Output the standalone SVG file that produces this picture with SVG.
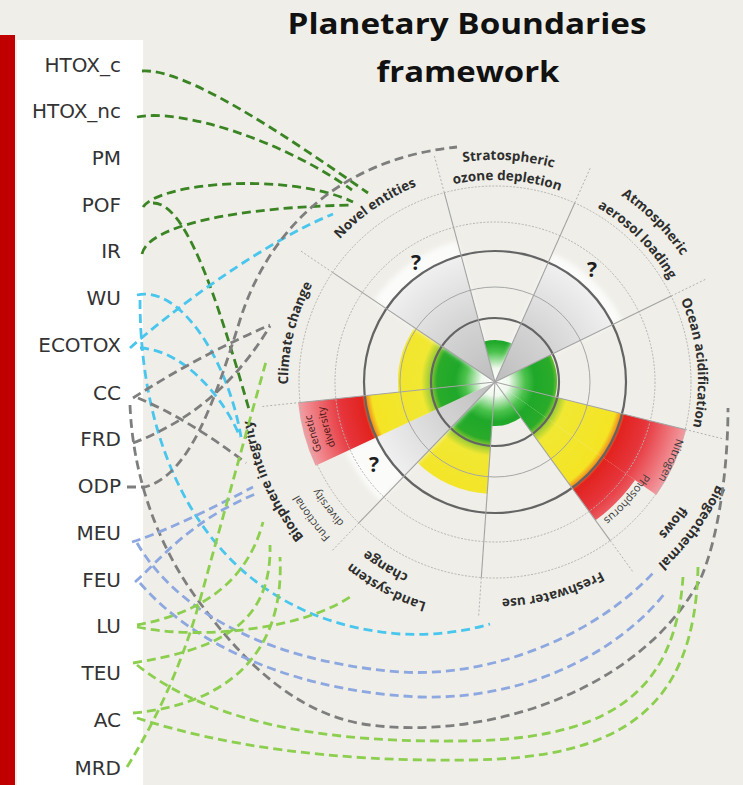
<svg xmlns="http://www.w3.org/2000/svg" width="743" height="785" viewBox="0 0 743 785">
<style>
  text { font-family: "Open Sans", "Liberation Sans", Arial, sans-serif; }
  .ind { font-family: "DejaVu Sans", "Liberation Sans", sans-serif; font-size: 20px; fill: #333; text-anchor: end; }
  .ttl { font-size: 29px; font-weight: bold; fill: #111; text-anchor: middle; }
  .pb { font-size: 13.5px; font-weight: bold; fill: #2e2e2e; }
  .sub { font-size: 11px; fill: #3c3c3c; }
  .subr { font-size: 10.5px; fill: #4a1616; }
  .q { font-size: 21px; font-weight: bold; fill: #1e1e1e; text-anchor: middle; }
  .ring-d { fill: none; stroke: #646464; stroke-width: 2.2; }
  .ring-l { fill: none; stroke: #a6a6a6; stroke-width: 1; }
  .ring-o { fill: none; stroke: #b4b4b4; stroke-width: 1; stroke-dasharray: 2 1.5; }
  .spoke { stroke: #a3a3a3; stroke-width: 1.1; }
  .spoke-o { stroke: #b2b2b2; stroke-width: 1; stroke-dasharray: 2 2; }
  .cn { fill: none; stroke-width: 2.8; stroke-dasharray: 9 5; }
  .dg { stroke: #3a8424; }
  .cy { stroke: #49c6ee; }
  .gy { stroke: #7e7e7e; }
  .bl { stroke: #8da7e0; }
  .lg { stroke: #8ccf4f; }
</style>
<defs>
  <!-- status colours along the radius: safe (green) -> uncertain (yellow) -> high risk (red) -->
  <radialGradient id="status" gradientUnits="userSpaceOnUse" cx="495" cy="382" r="200">
    <stop offset="0" stop-color="#ffffff"/>
    <stop offset="0.07" stop-color="#eef8ec"/>
    <stop offset="0.15" stop-color="#4cc24c"/>
    <stop offset="0.2" stop-color="#1fa82a"/>
    <stop offset="0.29" stop-color="#2aab2a"/>
    <stop offset="0.33" stop-color="#a5cf35"/>
    <stop offset="0.37" stop-color="#f1e833"/>
    <stop offset="0.62" stop-color="#f4e424"/>
    <stop offset="0.645" stop-color="#f29a1e"/>
    <stop offset="0.67" stop-color="#e2231f"/>
    <stop offset="0.78" stop-color="#e6343a"/>
    <stop offset="1" stop-color="#f3a4aa"/>
  </radialGradient>
  <radialGradient id="unknown" gradientUnits="userSpaceOnUse" cx="495" cy="382" r="200">
    <stop offset="0" stop-color="#bdbdbd"/>
    <stop offset="0.3" stop-color="#d2d2d2"/>
    <stop offset="0.655" stop-color="#f0f0f0"/>
    <stop offset="1" stop-color="#ffffff"/>
  </radialGradient>
  <filter id="soft" x="-20%" y="-20%" width="140%" height="140%">
    <feGaussianBlur stdDeviation="2.5"/>
  </filter>
  <!-- baseline arcs for the boundary names (clockwise around the wheel centre) -->
  <path id="a-strat" d="M279.1,330.2 A222,222 0 0 1 715.6,356.9"/>
  <path id="a-ozone" d="M298.6,334.9 A202,202 0 0 1 695.7,359.1"/>
  <path id="a-novel" d="M303.2,469.8 A211,211 0 0 1 645.2,233.8"/>
  <path id="a-atmo" d="M365.9,197.7 A225,225 0 0 1 679.3,511.1"/>
  <path id="a-aero" d="M379.1,216.5 A202,202 0 0 1 660.5,497.9"/>
  <path id="a-ocean" d="M510.9,179.6 A203,203 0 0 1 549.2,577.6"/>
  <path id="a-bgc" d="M672.0,214.0 A244,244 0 0 1 386.1,600.4"/>
  <path id="a-flows" d="M661.5,233.7 A223,223 0 0 1 389.3,578.4"/>
  <path id="a-fresh" d="M711.0,361.2 A217,217 0 0 1 299.1,475.4"/>
  <path id="a-land" d="M677.3,523.9 A231,231 0 0 1 275.2,311.0"/>
  <path id="a-change" d="M655.0,519.6 A211,211 0 0 1 297.6,307.4"/>
  <path id="a-bio" d="M554.5,620.7 A246,246 0 0 1 357.4,178.1"/>
  <path id="a-clim" d="M411.8,571.5 A207,207 0 0 1 508.4,175.4"/>
  <path id="a-nitro" d="M601.2,224.5 A190,190 0 0 1 449.0,566.4"/>
  <path id="a-phos" d="M632.1,273.3 A175,175 0 0 1 403.3,531.0"/>
  <path id="a-gen1" d="M513.8,567.1 A186,186 0 0 1 414.1,214.5"/>
  <path id="a-gen2" d="M510.0,553.3 A172,172 0 0 1 422.3,226.1"/>
  <path id="a-fun1" d="M596.2,584.1 A226,226 0 0 1 330.8,226.7"/>
  <path id="a-fun2" d="M588.5,565.5 A206,206 0 0 1 344.3,241.5"/>
</defs>

<!-- page -->
<rect width="743" height="785" fill="#efeee8"/>
<rect id="bar" x="0" y="35" width="15" height="750" fill="#c00000"/>
<rect x="17" y="40" width="126" height="745" fill="#ffffff"/>

<g id="title">
  <text class="ttl" x="467" y="34" textLength="359" lengthAdjust="spacingAndGlyphs">Planetary Boundaries</text>
  <text class="ttl" x="468" y="82" textLength="183" lengthAdjust="spacingAndGlyphs">framework</text>
</g>

<!-- impact indicators -->
<g id="n-HTOX_c"><text class="ind" x="121" y="72">HTOX_c</text></g>
<g id="n-HTOX_nc"><text class="ind" x="121" y="118">HTOX_nc</text></g>
<g id="n-PM"><text class="ind" x="121" y="165">PM</text></g>
<g id="n-POF"><text class="ind" x="121" y="212">POF</text></g>
<g id="n-IR"><text class="ind" x="121" y="258">IR</text></g>
<g id="n-WU"><text class="ind" x="121" y="305">WU</text></g>
<g id="n-ECOTOX"><text class="ind" x="121" y="352">ECOTOX</text></g>
<g id="n-CC"><text class="ind" x="121" y="400">CC</text></g>
<g id="n-FRD"><text class="ind" x="121" y="446">FRD</text></g>
<g id="n-ODP"><text class="ind" x="121" y="493">ODP</text></g>
<g id="n-MEU"><text class="ind" x="121" y="540">MEU</text></g>
<g id="n-FEU"><text class="ind" x="121" y="587">FEU</text></g>
<g id="n-LU"><text class="ind" x="121" y="633">LU</text></g>
<g id="n-TEU"><text class="ind" x="121" y="680">TEU</text></g>
<g id="n-AC"><text class="ind" x="121" y="727">AC</text></g>
<g id="n-MRD"><text class="ind" x="121" y="775">MRD</text></g>

<!-- planetary boundaries wheel -->
<g id="wheel">
  <g id="pb-climate">
    <path d="M495,382 L398.53,392.14 A97,97 0 0 1 414.59,327.76 Z" fill="url(#status)"/>
  </g>
  <g id="pb-novel">
    <path d="M495,382 L373.97,300.36 A146,146 0 0 1 457.22,240.98 Z" fill="#fbfbfa" filter="url(#soft)"/>
    <path d="M495,382 L386.40,308.74 A131,131 0 0 1 461.10,255.47 Z" fill="url(#unknown)"/>
  </g>
  <g id="pb-ozone">
    <path d="M495,382 L484.13,341.43 A42,42 0 0 1 512.08,343.63 Z" fill="url(#status)"/>
  </g>
  <g id="pb-aerosol">
    <path d="M495,382 L552.35,253.20 A141,141 0 0 1 621.73,320.19 Z" fill="#fbfbfa" filter="url(#soft)"/>
    <path d="M495,382 L548.28,262.33 A131,131 0 0 1 612.74,324.57 Z" fill="url(#unknown)"/>
  </g>
  <g id="pb-ocean">
    <path d="M495,382 L550.73,354.82 A62,62 0 0 1 555.16,397.00 Z" fill="url(#status)"/>
  </g>
  <g id="pb-biogeochemical">
    <path d="M495,382 L686.15,429.65 A197,197 0 0 1 656.38,495.00 Z" fill="url(#status)"/>
    <path d="M495,382 L635.08,480.09 A171,171 0 0 1 595.51,520.34 Z" fill="url(#status)"/>
  </g>
  <g id="pb-freshwater">
    <path d="M495,382 L520.86,417.60 A44,44 0 0 1 491.93,425.89 Z" fill="url(#status)"/>
  </g>
  <g id="pb-land">
    <path d="M495,382 L487.18,493.73 A112,112 0 0 1 417.19,462.56 Z" fill="url(#status)"/>
  </g>
  <g id="pb-biosphere">
    <path d="M495,382 L380.37,500.68 A165,165 0 0 1 345.46,451.73 Z" fill="#fbfbfa" filter="url(#soft)"/>
    <path d="M495,382 L403.99,476.23 A131,131 0 0 1 376.27,437.36 Z" fill="url(#unknown)"/>
    <path d="M495,382 L315.55,465.67 A198,198 0 0 1 298.09,402.69 Z" fill="url(#status)"/>
  </g>

  <g id="rings">
    <circle class="ring-l" cx="495" cy="382" r="95"/>
    <circle class="ring-o" cx="495" cy="382" r="160"/>
    <circle class="ring-o" cx="495" cy="382" r="196"/>
    <circle class="ring-d" cx="495" cy="382" r="64"/>
    <circle class="ring-d" cx="495" cy="382" r="131"/>
  </g>
  <g id="spokes">
    <line class="spoke" x1="495" y1="382" x2="332.52" y2="272.40"/>
    <line class="spoke" x1="495" y1="382" x2="444.28" y2="192.68"/>
    <line class="spoke" x1="495" y1="382" x2="574.71" y2="202.95"/>
    <line class="spoke" x1="495" y1="382" x2="671.16" y2="296.07"/>
    <line class="spoke" x1="495" y1="382" x2="685.18" y2="429.41"/>
    <line class="spoke" x1="495" y1="382" x2="610.21" y2="540.56"/>
    <line class="spoke" x1="495" y1="382" x2="481.32" y2="577.53"/>
    <line class="spoke" x1="495" y1="382" x2="358.84" y2="522.98"/>
    <line class="spoke" x1="495" y1="382" x2="300.08" y2="402.48"/>
    <line class="spoke-o" x1="332.52" y1="272.40" x2="300.18" y2="250.59"/>
    <line class="spoke-o" x1="444.28" y1="192.68" x2="434.18" y2="155.01"/>
    <line class="spoke-o" x1="574.71" y1="202.95" x2="590.57" y2="167.33"/>
    <line class="spoke-o" x1="671.16" y1="296.07" x2="706.22" y2="278.98"/>
    <line class="spoke-o" x1="685.18" y1="429.41" x2="723.02" y2="438.85"/>
    <line class="spoke-o" x1="610.21" y1="540.56" x2="633.13" y2="572.12"/>
    <line class="spoke-o" x1="481.32" y1="577.53" x2="478.60" y2="616.44"/>
    <line class="spoke-o" x1="358.84" y1="522.98" x2="331.75" y2="551.04"/>
    <line class="spoke-o" x1="300.08" y1="402.48" x2="261.29" y2="406.56"/>
  </g>

  <g id="unknown-marks">
    <text class="q" x="416" y="270">?</text>
    <text class="q" x="592" y="277">?</text>
    <text class="q" x="374" y="472">?</text>
  </g>

  <g id="pb-labels">
    <text class="pb"><textPath href="#a-strat" startOffset="50%" text-anchor="middle">Stratospheric</textPath></text>
    <text class="pb"><textPath href="#a-ozone" startOffset="50%" text-anchor="middle">ozone depletion</textPath></text>
    <text class="pb"><textPath href="#a-novel" startOffset="50%" text-anchor="middle">Novel entities</textPath></text>
    <text class="pb"><textPath href="#a-atmo" startOffset="50%" text-anchor="middle">Atmospheric</textPath></text>
    <text class="pb"><textPath href="#a-aero" startOffset="50%" text-anchor="middle">aerosol loading</textPath></text>
    <text class="pb"><textPath href="#a-ocean" startOffset="50%" text-anchor="middle">Ocean acidification</textPath></text>
    <text class="pb"><textPath href="#a-bgc" startOffset="50%" text-anchor="middle">Biogeothermal</textPath></text>
    <text class="pb"><textPath href="#a-flows" startOffset="50%" text-anchor="middle">flows</textPath></text>
    <text class="pb"><textPath href="#a-fresh" startOffset="50%" text-anchor="middle">Freshwater use</textPath></text>
    <text class="pb"><textPath href="#a-land" startOffset="50%" text-anchor="middle">Land-system</textPath></text>
    <text class="pb"><textPath href="#a-change" startOffset="50%" text-anchor="middle">change</textPath></text>
    <text class="pb"><textPath href="#a-bio" startOffset="50%" text-anchor="middle">Biosphere integrity</textPath></text>
    <text class="pb"><textPath href="#a-clim" startOffset="50%" text-anchor="middle">Climate change</textPath></text>
    <text class="sub"><textPath href="#a-nitro" startOffset="50%" text-anchor="middle">Nitrogen</textPath></text>
    <text class="sub"><textPath href="#a-phos" startOffset="50%" text-anchor="middle">Phosphorus</textPath></text>
    <text class="subr"><textPath href="#a-gen1" startOffset="50%" text-anchor="middle">Genetic</textPath></text>
    <text class="subr"><textPath href="#a-gen2" startOffset="50%" text-anchor="middle">diversity</textPath></text>
    <text class="sub"><textPath href="#a-fun1" startOffset="50%" text-anchor="middle">Functional</textPath></text>
    <text class="sub"><textPath href="#a-fun2" startOffset="50%" text-anchor="middle">diversity</textPath></text>
  </g>
</g>

<!-- links from indicators to boundaries -->
<g id="connectors">
  <path class="cn dg" d="M142,71 C185,68 282,133 368,193"/>
  <path class="cn dg" d="M137,117 C180,108 282,140 352,190"/>
  <path class="cn dg" d="M143,207 C160,182 290,172 353,202"/>
  <path class="cn dg" d="M142,254 C148,225 240,207 353,205"/>
  <path class="cn dg" d="M153,203 C185,203 215,290 250,413"/>

  <path class="cn cy" d="M130,348 C170,312 262,243 333,214"/>
  <path class="cn cy" d="M137,295 C180,285 228,360 241,437"/>
  <path class="cn cy" d="M140,348 C185,350 225,400 240,437"/>
  <path class="cn cy" d="M140,300 C140,470 220,620 400,634 C440,636 470,630 490,624"/>

  <path class="cn gy" d="M127,487 L145,487 C190,475 215,400 240,320 C265,240 330,160 457,147"/>
  <path class="cn gy" d="M133,398 Q200,355 270,325"/>
  <path class="cn gy" d="M133,443 Q220,410 270,326"/>
  <path class="cn gy" d="M138,398 Q190,420 246,463"/>
  <path class="cn gy" d="M130,405 C133,480 160,550 200,603 C235,650 290,715 370,725 C490,740 640,690 700,580 C718,540 728,470 728,408"/>

  <path class="cn bl" d="M132,542 C155,535 200,515 253,487"/>
  <path class="cn bl" d="M135,582 C160,560 190,520 258,493"/>
  <path class="cn bl" d="M137,543 C170,600 250,660 400,672 C500,678 600,630 653,573"/>
  <path class="cn bl" d="M140,583 C180,630 270,690 420,697 C530,700 620,650 665,593"/>

  <path class="cn lg" d="M127,767 Q175,690 200,600 L267,358"/>
  <path class="cn lg" d="M137,625 C190,615 245,590 263,522"/>
  <path class="cn lg" d="M137,627 C200,640 300,630 350,597"/>
  <path class="cn lg" d="M133,663 C210,650 272,630 270,545"/>
  <path class="cn lg" d="M133,713 C220,705 285,660 280,557"/>
  <path class="cn lg" d="M137,665 C200,715 300,742 450,741 C600,742 675,700 683,577"/>
  <path class="cn lg" d="M137,718 C220,745 330,762 470,760 C620,758 695,710 698,567"/>
</g>
</svg>
